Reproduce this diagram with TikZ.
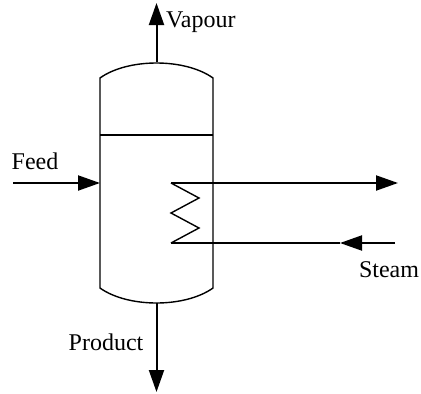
\documentclass[tikz,border=0pt]{standalone}
\usepackage{fontspec}
\setmainfont{Liberation Serif}
\newfontfamily\tnrfont{Liberation Serif}
\usetikzlibrary{arrows.meta}
\begin{document}
\begin{tikzpicture}[x=1pt,y=-1pt,
  lbl/.style={inner sep=0pt,font=\tnrfont\fontsize{24}{26}\selectfont},
  wall/.style={line width=1.4pt},
  flow/.style={line width=2pt,-{Triangle[length=22pt,width=15pt]}},
  pipe/.style={line width=1.4pt}]
\useasboundingbox (0,0) rectangle (421,394);
% vessel key points
\coordinate (tl) at (100,78);
\coordinate (tr) at (213,78);
\coordinate (bl) at (100,288);
\coordinate (br) at (213,288);
\coordinate (top) at (156.5,62);
\coordinate (bot) at (156.5,303);
\coordinate (dl) at (100,135);
\coordinate (dr) at (213,135);
% vessel
\draw[wall] (tl) .. controls (128,58) and (185,58) .. (tr) -- (br)
  .. controls (185,308) and (128,308) .. (bl) -- cycle;
\draw[wall] (dl) -- (dr);
% vapour
\coordinate (vapout) at (156.5,3);
\draw[flow] (top) -- (vapout);
\node[lbl,anchor=west] (vap) at (166,22) {Vapour};
% product
\coordinate (prodout) at (156.5,392);
\draw[flow] (bot) -- (prodout);
\node[lbl] (prod) at (106,342) {Product};
% feed
\coordinate (feedin) at (13,183);
\coordinate (feedend) at (100,183);
\draw[flow] (feedin) -- (feedend);
\node[lbl] (feed) at (35,161) {Feed};
% coil
\coordinate (c0) at (171,183);
\coordinate (c1) at (199,198);
\coordinate (c2) at (171,213);
\coordinate (c3) at (199,228);
\coordinate (c4) at (171,243);
\draw[pipe] (c0) -- (c1) -- (c2) -- (c3) -- (c4);
\coordinate (condmid) at (320,183);
\coordinate (condout) at (398,183);
\draw[pipe] (c0) -- (condmid);
\draw[flow] (condmid) -- (condout);
\coordinate (steamin) at (395,243);
\coordinate (steammid) at (340,243);
\draw[flow] (steamin) -- (steammid);
\draw[pipe] (steammid) -- (c4);
\node[lbl] (steam) at (389,270) {Steam};
\end{tikzpicture}
\end{document}
